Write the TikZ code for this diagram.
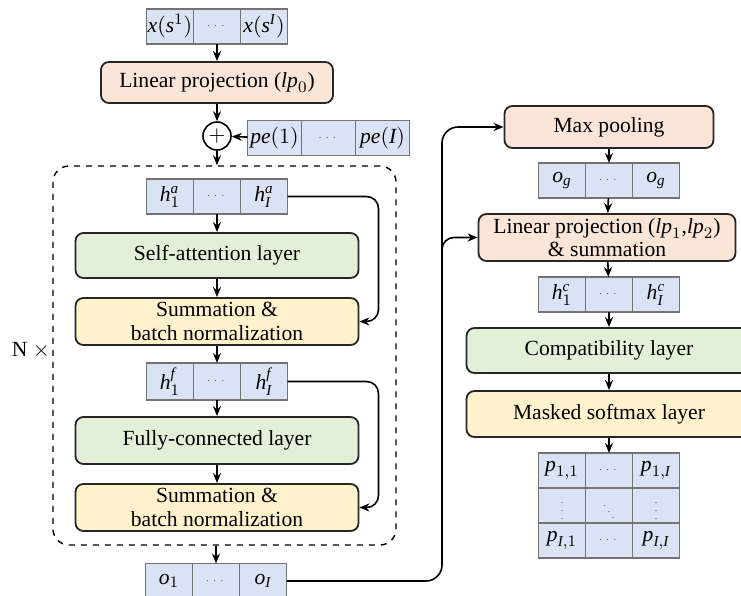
\documentclass[tikz,border=0pt]{standalone}
\usepackage{amsmath}
\usepackage{fontspec}
\setmainfont{Liberation Serif}
\usetikzlibrary{positioning,arrows.meta}
\definecolor{cellblue}{HTML}{DAE3F3}
\definecolor{projpeach}{HTML}{FBE5D6}
\definecolor{layergreen}{HTML}{E2F0D9}
\definecolor{normyellow}{HTML}{FFF2CC}
\tikzset{
  cell/.style={draw=black!55, fill=cellblue, line width=0.6pt, minimum width=23.5pt,
    minimum height=17.5pt, inner sep=0pt, outer sep=0pt},
  layer/.style={draw=black!85, line width=0.9pt, rounded corners=4pt, align=center,
    inner sep=1pt, minimum width=141.5pt, minimum height=23.5pt},
  proj/.style={layer, fill=projpeach},
  attn/.style={layer, fill=layergreen},
  norm/.style={layer, fill=normyellow},
  link/.style={->, line width=0.8pt}
}
\newcommand{\vr}[1]{\textit{#1}}
\newcommand{\celldots}{{\tiny\color{black!70}$\cdots$}}
\begin{document}
\begin{tikzpicture}[x=0.5pt, y=-0.5pt, >={Stealth[length=5pt,width=4pt]},
    font=\fontsize{10.8}{11.8}\selectfont]
  \useasboundingbox (0,0) rectangle (741,596);
  % encoder
  \node [cell] (xs2) at (217,26.5) {\celldots};
  \node [cell, left=0pt of xs2] (xs1) {$\vr{x}(\vr{s}^1)$};
  \node [cell, right=0pt of xs2] (xs3) {$\vr{x}(\vr{s}^{\vr{I}})$};
  \node [proj, minimum width=116pt, minimum height=20.5pt] (lp0) at (217,82.5) {Linear projection ($\vr{lp}_0$)};
  \node [draw, circle, line width=0.8pt, minimum size=14pt, inner sep=0pt] (plus) at (217,136) {$+$};
  \node [cell, minimum width=27pt] (pe2) at (328.5,138) {\celldots};
  \node [cell, minimum width=27pt, left=0pt of pe2] (pe1) {$\vr{pe}(1)$};
  \node [cell, minimum width=27pt, right=0pt of pe2] (pe3) {$\vr{pe}(\vr{I})$};
  \node [draw, dashed, rounded corners=8pt, line width=0.7pt, minimum width=171.5pt,
    minimum height=189.5pt] (stack) at (224.5,355.5) {};
  \node (nx) at (31,350) {N $\times$};
  \node [cell] (ha2) at (217,196.5) {\celldots};
  \node [cell, left=0pt of ha2] (ha1) {$\vr{h}_1^{\vr{a}}$};
  \node [cell, right=0pt of ha2] (ha3) {$\vr{h}_{\vr{I}}^{\vr{a}}$};
  \node [attn, minimum height=22.5pt] (sa) at (217,255.5) {Self-attention layer};
  \node [norm] (sum1) at (217,321.5) {Summation \&\\batch normalization};
  \node [cell, minimum height=18.5pt] (hf2) at (217,381.5) {\celldots};
  \node [cell, minimum height=18.5pt, left=0pt of hf2] (hf1) {$\vr{h}_1^{\vr{f}}$};
  \node [cell, minimum height=18.5pt, right=0pt of hf2] (hf3) {$\vr{h}_{\vr{I}}^{\vr{f}}$};
  \node [attn] (fc) at (217,440.5) {Fully-connected layer};
  \node [norm] (sum2) at (217,507.5) {Summation \&\\batch normalization};
  \node [cell] (o2) at (216,581) {\celldots};
  \node [cell, left=0pt of o2] (o1) {$\vr{o}_1$};
  \node [cell, right=0pt of o2] (o3) {$\vr{o}_{\vr{I}}$};
  \draw [link] (xs2) -- (lp0);
  \draw [link] (lp0) -- (plus);
  \draw [link] (pe1) -- (plus);
  \draw [link] (plus) -- (plus |- stack.north);
  \draw [link] (ha2) -- (sa);
  \draw [link] (sa) -- (sum1);
  \draw [link] (sum1) -- (hf2);
  \draw [link] (hf2) -- (fc);
  \draw [link] (fc) -- (sum2);
  \draw [link] (stack.south -| o2) -- (o2);
  \draw [link, rounded corners=6pt] (ha3.east) -- ++(91,0) |- (sum1.east);
  \draw [link, rounded corners=6pt] (hf3.east) -- ++(91,0) |- (sum2.east);
  % decoder
  \node [proj, minimum width=104.5pt, minimum height=21pt] (mp) at (609,127) {Max pooling};
  \node [cell] (og2) at (609,180.5) {\celldots};
  \node [cell, left=0pt of og2] (og1) {$\vr{o}_{\vr{g}}$};
  \node [cell, right=0pt of og2] (og3) {$\vr{o}_{\vr{g}}$};
  \node [proj, minimum width=128.5pt] (lp12) at (607,237.5) {Linear projection ($\vr{lp}_1$,$\vr{lp}_2$)\\\& summation};
  \node [cell] (hc2) at (609,294.5) {\celldots};
  \node [cell, left=0pt of hc2] (hc1) {$\vr{h}_1^{\vr{c}}$};
  \node [cell, right=0pt of hc2] (hc3) {$\vr{h}_{\vr{I}}^{\vr{c}}$};
  \node [attn, minimum width=142.5pt, minimum height=22.5pt] (comp) at (609,350.5) {Compatibility layer};
  \node [norm, minimum width=142.5pt, minimum height=23pt] (mask) at (609,414) {Masked softmax layer};
  \node [cell] (p12) at (609,470.5) {\celldots};
  \node [cell, left=0pt of p12] (p11) {$\vr{p}_{1,1}$};
  \node [cell, right=0pt of p12] (p13) {$\vr{p}_{1,\vr{I}}$};
  \node [cell, below=0pt of p12] (p22) {\tiny\color{black!70}$\ddots$};
  \node [cell, left=0pt of p22] (p21) {\tiny\color{black!70}$\vdots$};
  \node [cell, right=0pt of p22] (p23) {\tiny\color{black!70}$\vdots$};
  \node [cell, below=0pt of p22] (p32) {\celldots};
  \node [cell, left=0pt of p32] (p31) {$\vr{p}_{\vr{I},1}$};
  \node [cell, right=0pt of p32] (p33) {$\vr{p}_{\vr{I},\vr{I}}$};
  \coordinate (bus) at (442,400);
  \draw [link, rounded corners=8pt] (o3.east) -| (bus) |- (mp.west);
  \draw [link, rounded corners=6pt] (bus) |- (lp12.west);
  \draw [link] (mp) -- (og2);
  \draw [link] (og2) -- (lp12);
  \draw [link] (lp12) -- (hc2);
  \draw [link] (hc2) -- (comp);
  \draw [link] (comp) -- (mask);
  \draw [link] (mask) -- (p12);
\end{tikzpicture}
\end{document}
